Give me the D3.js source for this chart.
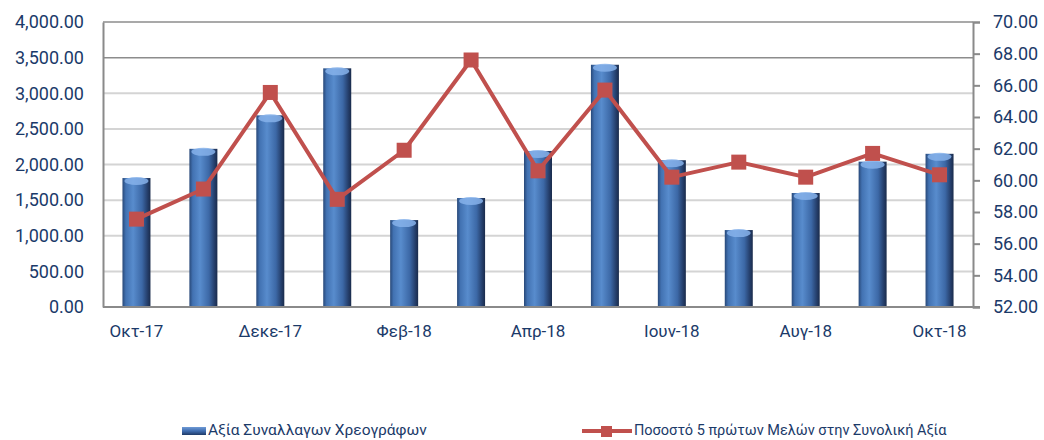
<!DOCTYPE html>
<html>
<head>
<meta charset="utf-8">
<script src="https://cdn.jsdelivr.net/npm/d3@7"></script>
<style>
  body { margin: 0; background: #fff; }
  svg text { font-family: Roboto, "Noto Sans", sans-serif; }
</style>
</head>
<body>
<svg id="chart" width="1044" height="440"></svg>
<script>
// ===== data =====
var months = ["Οκτ-17", "Νοε-17", "Δεκε-17", "Ιαν-18", "Φεβ-18", "Μαρ-18", "Απρ-18",
  "Μαϊ-18", "Ιουν-18", "Ιουλ-18", "Αυγ-18", "Σεπ-18", "Οκτ-18"];
var tradeValue = [1810, 2220, 2690, 3350, 1220, 1530, 2190, 3400, 2060, 1080, 1600, 2040, 2150];
var top5Share = [57.55, 59.45, 65.55, 58.8, 61.9, 67.6, 60.6, 65.7, 60.2, 61.15, 60.2, 61.7, 60.35];
var leftTicks = [0, 500, 1000, 1500, 2000, 2500, 3000, 3500, 4000];
var rightTicks = [52, 54, 56, 58, 60, 62, 64, 66, 68, 70];
var seriesNames = ["Αξία Συναλλαγων Χρεογράφων", "Ποσοστό 5 πρώτων Μελών στην Συνολική Αξία"];

var textColor = "#1b3a69",
  lineColor = "#c0504d",
  axisColor = "#8a8a8a";

var svg = d3.select("#chart");
var pLeft = 103, pRight = 973, pTop = 22, pBottom = 307;

var x = d3.scaleBand().domain(months).range([pLeft, pRight]).padding(0);
var yL = d3.scaleLinear().domain([0, 4000]).range([pBottom, pTop]);
var yR = d3.scaleLinear().domain([52, 70]).range([pBottom, pTop]);
var fmt = d3.format(",.2f");

//====================== gradients ======================
var defs = svg.append("defs");
var grad = defs.append("linearGradient").attr("id", "barGrad")
  .attr("x1", "0%").attr("x2", "100%").attr("y1", "0%").attr("y2", "0%");
[["0%", "#284878"], ["12%", "#4272b2"], ["38%", "#588ccd"], ["70%", "#3c68a6"], ["90%", "#243d69"], ["100%", "#1a2b4b"]]
  .forEach(function(s) { grad.append("stop").attr("offset", s[0]).attr("stop-color", s[1]); });

var lgGrad = defs.append("linearGradient").attr("id", "legGrad")
  .attr("x1", "0%").attr("x2", "0%").attr("y1", "0%").attr("y2", "100%");
[["0%", "#6f9bd6"], ["50%", "#3f6db0"], ["100%", "#1f3a66"]]
  .forEach(function(s) { lgGrad.append("stop").attr("offset", s[0]).attr("stop-color", s[1]); });

//====================== gridlines ======================
svg.append("g").selectAll("line")
  .data(leftTicks.filter(function(d) { return d > 0; }))
  .enter().append("line")
  .attr("x1", pLeft).attr("x2", pRight)
  .attr("y1", function(d) { return yL(d); })
  .attr("y2", function(d) { return yL(d); })
  .attr("stroke", function(d) { return d >= 3500 ? "#8c8c8c" : "#d4d4d4"; })
  .attr("stroke-width", function(d) { return d >= 3500 ? 1.5 : 2; });

//====================== bars ======================
var bw = 28;
var bars = svg.append("g");
bars.selectAll("rect")
  .data(tradeValue)
  .enter().append("rect")
  .attr("x", function(d, i) { return x(months[i]) + x.bandwidth() / 2 - bw / 2; })
  .attr("y", function(d) { return yL(d); })
  .attr("width", bw)
  .attr("height", function(d) { return pBottom - yL(d); })
  .attr("fill", "url(#barGrad)");
bars.selectAll("ellipse")
  .data(tradeValue)
  .enter().append("ellipse")
  .attr("cx", function(d, i) { return x(months[i]) + x.bandwidth() / 2; })
  .attr("cy", function(d) { return yL(d) + 3; })
  .attr("rx", bw / 2 - 2)
  .attr("ry", 4)
  .attr("fill", "#86b2ea")
  .attr("opacity", 0.85);

//====================== axes ======================
var axL = svg.append("g").attr("transform", "translate(" + pLeft + ",0)")
  .call(d3.axisLeft(yL).tickValues(leftTicks).tickFormat(fmt).tickSize(0).tickPadding(19));
var axR = svg.append("g").attr("transform", "translate(" + pRight + ",0)")
  .call(d3.axisRight(yR).tickValues(rightTicks).tickFormat(d3.format(".2f")).tickSize(7).tickPadding(13));
var axB = svg.append("g").attr("transform", "translate(0," + pBottom + ")")
  .call(d3.axisBottom(x).tickValues(months.filter(function(d, i) { return i % 2 == 0; })).tickSize(0).tickPadding(18));

[axL, axR, axB].forEach(function(a) {
  a.select(".domain").attr("stroke", axisColor).attr("stroke-width", 2);
  a.selectAll(".tick line").attr("stroke", axisColor).attr("stroke-width", 2);
  a.selectAll("text").attr("fill", textColor).style("font-size", "18px");
});
axB.select(".domain").attr("d", "M" + pLeft + ",0H" + (pRight + 7));
axB.selectAll("text").style("font-size", "17px");

//====================== line ======================
var line = d3.line()
  .x(function(d, i) { return x(months[i]) + x.bandwidth() / 2; })
  .y(function(d) { return yR(d); });
svg.append("path").datum(top5Share)
  .attr("d", line)
  .attr("fill", "none")
  .attr("stroke", lineColor)
  .attr("stroke-width", 4)
  .attr("stroke-linejoin", "round");
var ms = 15;
svg.append("g").selectAll("rect")
  .data(top5Share)
  .enter().append("rect")
  .attr("x", function(d, i) { return x(months[i]) + x.bandwidth() / 2 - ms / 2; })
  .attr("y", function(d) { return yR(d) - ms / 2; })
  .attr("width", ms).attr("height", ms)
  .attr("fill", lineColor);

//====================== legend ======================
var lg = svg.append("g");
lg.append("rect").attr("x", 182).attr("y", 427).attr("width", 24).attr("height", 8).attr("fill", "url(#legGrad)");
lg.append("text").attr("x", 208).attr("y", 435).text(seriesNames[0])
  .attr("fill", textColor).style("font-size", "15.5px");
lg.append("line").attr("x1", 582).attr("x2", 632).attr("y1", 431).attr("y2", 431)
  .attr("stroke", lineColor).attr("stroke-width", 4);
lg.append("rect").attr("x", 601).attr("y", 426).attr("width", 11).attr("height", 11).attr("fill", lineColor);
lg.append("text").attr("x", 634).attr("y", 435).text(seriesNames[1])
  .attr("fill", textColor).style("font-size", "14.5px");
</script>
</body>
</html>
